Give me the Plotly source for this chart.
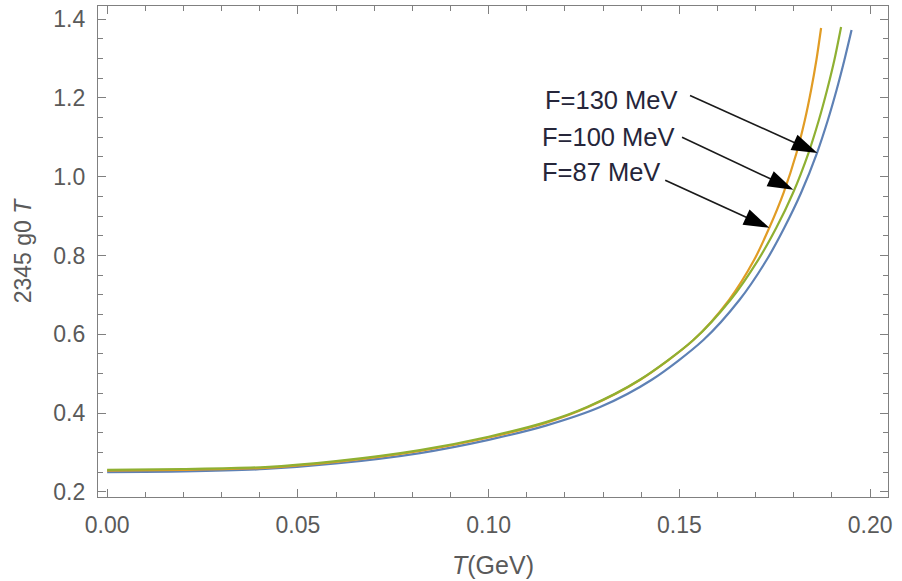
import plotly.graph_objects as go

# ---- data ----
T_130 = [0.000, 0.020, 0.0414, 0.060, 0.082, 0.100, 0.115, 0.12923, 0.14267, 0.15630, 0.16574,
         0.17287, 0.17748, 0.18189, 0.18608, 0.18894, 0.19122, 0.19327, 0.19515]
V_130 = [0.2503, 0.252, 0.258, 0.272, 0.2985, 0.332, 0.368, 0.4152, 0.4838, 0.5853, 0.6868,
         0.7883, 0.8695, 0.9584, 1.0599, 1.1437, 1.2198, 1.2959, 1.3721]

T_100 = [0.000, 0.020, 0.0414, 0.060, 0.082, 0.100, 0.115, 0.12582, 0.13953, 0.15368, 0.16338,
         0.17064, 0.17539, 0.17979, 0.18385, 0.18658, 0.18873, 0.19064, 0.19240]
V_100 = [0.256, 0.258, 0.263, 0.278, 0.306, 0.340, 0.377, 0.4152, 0.4838, 0.5853, 0.6868,
         0.7883, 0.8695, 0.9584, 1.0599, 1.1437, 1.2198, 1.2959, 1.3797]

T_87 = [0.000, 0.020, 0.0414, 0.060, 0.082, 0.100, 0.115, 0.12608, 0.13966, 0.15368, 0.16299,
        0.16959, 0.17355, 0.17730, 0.18071, 0.18291, 0.18454, 0.18593, 0.18716]
V_87 = [0.254, 0.256, 0.261, 0.276, 0.304, 0.338, 0.375, 0.4152, 0.4838, 0.5853, 0.6868,
        0.7883, 0.8695, 0.9584, 1.0599, 1.1437, 1.2198, 1.2959, 1.3772]

LABELS = ["F=130 MeV", "F=100 MeV", "F=87 MeV"]
LABEL_X = [0.1143, 0.1135, 0.1135]
LABEL_Y = [1.194, 1.100, 1.011]
ARROW_TAIL_X = [0.1528, 0.1507, 0.1463]
ARROW_TAIL_Y = [1.206, 1.100, 0.991]
ARROW_HEAD_X = [0.1862, 0.1799, 0.1736]
ARROW_HEAD_Y = [1.060, 0.967, 0.870]

BLUE = "#5E81B5"
ORANGE = "#E19C24"
GREEN = "#8FB032"
FONT = "Liberation Sans, Arial, sans-serif"
GRAY = "#5a5a5a"

fig = go.Figure()
for T, V, c in [(T_130, V_130, BLUE), (T_87, V_87, ORANGE), (T_100, V_100, GREEN)]:
    fig.add_trace(go.Scatter(x=T, y=V, mode="lines",
                             line=dict(color=c, width=2.2, shape="spline", smoothing=0.8),
                             hoverinfo="skip", showlegend=False))

for i in range(3):
    fig.add_trace(go.Scatter(x=[ARROW_TAIL_X[i], ARROW_HEAD_X[i]], y=[ARROW_TAIL_Y[i], ARROW_HEAD_Y[i]],
                             mode="lines+markers", line=dict(color="#1a1a1a", width=1.6),
                             marker=dict(symbol="arrow", size=[0, 27], angleref="previous", color="#000000",
                                         opacity=1, line=dict(width=0)),
                             hoverinfo="skip", showlegend=False))
    fig.add_annotation(x=LABEL_X[i], y=LABEL_Y[i], text=LABELS[i], showarrow=False, xanchor="left",
                       yanchor="middle", font=dict(family=FONT, size=25.5, color="#26263a"))

axis_common = dict(showline=True, linecolor="#808080", linewidth=1.2, mirror="ticks", ticks="inside",
                   tickcolor="#808080", tickwidth=1.1, ticklen=8, showgrid=False, zeroline=False,
                   tickfont=dict(family=FONT, size=23, color=GRAY))

fig.update_xaxes(range=[-0.0024, 0.2047], dtick=0.05, tick0=0, tickformat=".2f",
                 minor=dict(dtick=0.01, ticks="inside", ticklen=4.5, tickcolor="#808080", tickwidth=1),
                 ticklabelstandoff=7,
                 title=dict(text="<i>T</i>(GeV)", font=dict(family=FONT, size=25, color=GRAY), standoff=19),
                 **axis_common)
fig.update_yaxes(range=[0.187, 1.433], dtick=0.2, tick0=0.2, tickformat=".1f",
                 minor=dict(dtick=0.05, ticks="inside", ticklen=4.5, tickcolor="#808080", tickwidth=1),
                 ticklabelstandoff=7,
                 title=dict(text="2345 g0 <i>T</i>", font=dict(family=FONT, size=23, color=GRAY), standoff=15),
                 **axis_common)

fig.update_layout(width=902, height=581, margin=dict(l=98, r=14, t=6, b=84),
                  plot_bgcolor="white", paper_bgcolor="white")

fig.write_html("out.html")
